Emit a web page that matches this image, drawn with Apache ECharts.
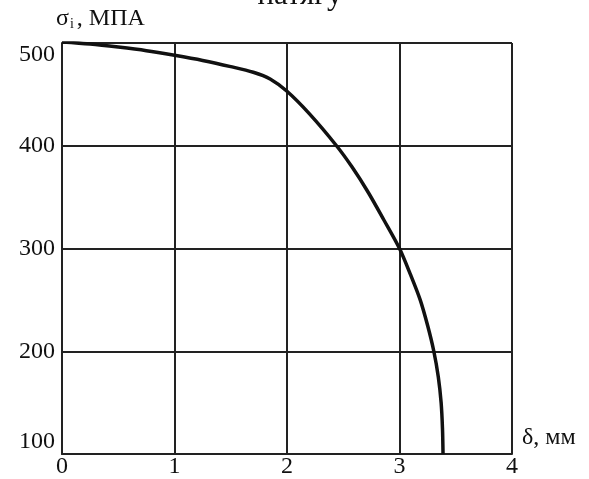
<!DOCTYPE html>
<html>
<head>
<meta charset="utf-8">
<title>натягу</title>
<script src="https://cdn.jsdelivr.net/npm/echarts@6/dist/echarts.min.js"></script>
<style>
  html, body { margin: 0; padding: 0; background: #fff; }
  #box { width: 589px; height: 479px; }
</style>
</head>
<body>
<div id="box"></div>
<script>
// δ, мм
var deltaMm = [0, 0.25, 0.5, 0.75, 1, 1.25, 1.5, 1.7, 1.85, 2, 2.2, 2.44, 2.58, 2.72, 2.86, 3, 3.1, 3.184, 3.25, 3.305, 3.345, 3.37, 3.382, 3.387]
// σi, МПА
var sigmaMpa = [501, 499, 496, 492.5, 488, 483, 477, 471.5, 465, 453, 431, 400, 379, 355, 328, 300, 274, 250, 225, 200, 175, 150, 125, 100]
var xTicks = [0, 1, 2, 3, 4]
var yTicks = [100, 200, 300, 400, 500]

var points = []
for (var i = 0; i < deltaMm.length; i++) {
  points.push([deltaMm[i], sigmaMpa[i]])
}

var serif = 'Liberation Serif'
var lineColor = '#222'

var chart = echarts.init(document.getElementById('box'))
chart.setOption({
  animation: false,
  title: {
    text: 'натягу',
    left: 295,
    top: -25,
    textAlign: 'center',
    textStyle: { fontFamily: serif, fontSize: 31, fontWeight: 'normal', color: '#111' }
  },
  grid: { left: 62, right: 77, top: 43, bottom: 24 },
  xAxis: {
    type: 'value',
    min: xTicks[0],
    max: xTicks[xTicks.length - 1],
    interval: 1,
    name: 'δ, мм',
    nameLocation: 'end',
    nameGap: 10,
    nameTextStyle: { fontFamily: serif, fontSize: 24, color: '#111', verticalAlign: 'bottom', padding: [0, 0, 4, 0] },
    axisLine: { lineStyle: { color: lineColor, width: 2 } },
    axisTick: { show: false },
    splitLine: { lineStyle: { color: lineColor, width: 2 } },
    axisLabel: { fontFamily: serif, fontSize: 24, color: '#111', margin: 1 }
  },
  yAxis: {
    type: 'value',
    min: yTicks[0],
    max: yTicks[yTicks.length - 1],
    interval: 100,
    name: '{s|σ}{sub|i}{s|, МПА}',
    nameLocation: 'end',
    nameGap: 12,
    nameTextStyle: {
      align: 'left',
      padding: [0, 0, 0, -6],
      rich: {
        s: { fontFamily: serif, fontSize: 24, color: '#111' },
        sub: { fontFamily: serif, fontSize: 14, color: '#111', verticalAlign: 'bottom', padding: [8, 3, 0, 1] }
      }
    },
    axisLine: { lineStyle: { color: lineColor, width: 2 } },
    axisTick: { show: false },
    splitLine: { lineStyle: { color: lineColor, width: 2 } },
    axisLabel: {
      fontFamily: serif, fontSize: 24, color: '#111', margin: 7,
      verticalAlignMinLabel: 'bottom',
      verticalAlignMaxLabel: 'top'
    }
  },
  series: [{
    type: 'line',
    data: points,
    smooth: 0.3,
    showSymbol: false,
    lineStyle: { color: '#111', width: 3.5 }
  }]
})
</script>
</body>
</html>
